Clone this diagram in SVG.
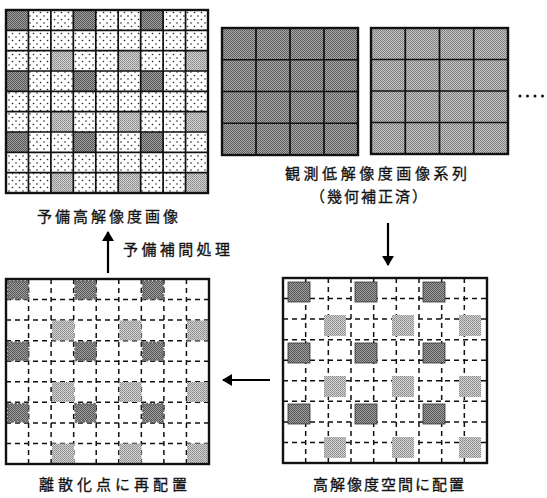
<svg xmlns="http://www.w3.org/2000/svg" width="547" height="498" viewBox="0 0 547 498">
<defs>
<pattern id="dots" patternUnits="userSpaceOnUse" width="7" height="7">
<rect width="7" height="7" fill="#fff"/>
<circle cx="2" cy="2" r="0.8" fill="#222"/>
<circle cx="5.5" cy="5.5" r="0.8" fill="#222"/>
</pattern>
<pattern id="hDark" patternUnits="userSpaceOnUse" width="2" height="2">
<rect width="2" height="2" fill="#a0a0a0"/>
<rect width="1" height="1" fill="#555"/>
<rect x="1" y="1" width="1" height="1" fill="#555"/>
</pattern>
<pattern id="hLight" patternUnits="userSpaceOnUse" width="2" height="2">
<rect width="2" height="2" fill="#d2d2d2"/>
<rect width="1" height="1" fill="#8a8a8a"/>
<rect x="1" y="1" width="1" height="1" fill="#9a9a9a"/>
</pattern>
<pattern id="hLowA" patternUnits="userSpaceOnUse" width="2" height="2">
<rect width="2" height="2" fill="#a8a8a8"/>
<rect width="1" height="1" fill="#5a5a5a"/>
<rect x="1" y="1" width="1" height="1" fill="#666"/>
</pattern>
<pattern id="hLowB" patternUnits="userSpaceOnUse" width="2" height="2">
<rect width="2" height="2" fill="#c4c4c4"/>
<rect width="1" height="1" fill="#7a7a7a"/>
<rect x="1" y="1" width="1" height="1" fill="#858585"/>
</pattern>
<marker id="ah" viewBox="0 0 10 12" refX="9" refY="6" markerWidth="10" markerHeight="12" markerUnits="userSpaceOnUse" orient="auto">
<path d="M0,0 L10,6 L0,12 Z" fill="#000"/>
</marker>
</defs>
<style>
.lbl{font-family:"Noto Sans CJK JP","Noto Sans CJK SC",sans-serif;font-size:15px;fill:#111;stroke:#111;stroke-width:0.3}
.grid{fill:none;stroke:#111;stroke-width:1.7}
.frame{fill:none;stroke:#111;stroke-width:2.4}
.dash{fill:none;stroke:#111;stroke-width:1.5;stroke-dasharray:5 4}
.dk{fill:url(#hDark)}
.lt{fill:url(#hLight)}
.sc{fill:url(#hDark);stroke:#6e6e6e;stroke-width:3;stroke-dasharray:0 3.8;stroke-linecap:round}
.arrow{fill:none;stroke:#000;stroke-width:2.2}
</style>
<rect width="547" height="498" fill="#fff"/>

<g id="prelim-hires">
<rect x="6" y="10" width="202" height="183" fill="url(#dots)"/>
<g class="dk">
<rect x="6" y="10" width="22.44" height="20.33"/><rect x="73.33" y="10" width="22.44" height="20.33"/><rect x="140.67" y="10" width="22.44" height="20.33"/>
<rect x="6" y="71" width="22.44" height="20.33"/><rect x="73.33" y="71" width="22.44" height="20.33"/><rect x="140.67" y="71" width="22.44" height="20.33"/>
<rect x="6" y="132" width="22.44" height="20.33"/><rect x="73.33" y="132" width="22.44" height="20.33"/><rect x="140.67" y="132" width="22.44" height="20.33"/>
</g>
<g class="lt">
<rect x="50.89" y="50.67" width="22.44" height="20.33"/><rect x="118.22" y="50.67" width="22.44" height="20.33"/><rect x="185.56" y="50.67" width="22.44" height="20.33"/>
<rect x="50.89" y="111.67" width="22.44" height="20.33"/><rect x="118.22" y="111.67" width="22.44" height="20.33"/><rect x="185.56" y="111.67" width="22.44" height="20.33"/>
<rect x="50.89" y="172.67" width="22.44" height="20.33"/><rect x="118.22" y="172.67" width="22.44" height="20.33"/><rect x="185.56" y="172.67" width="22.44" height="20.33"/>
</g>
<path class="grid" d="M28.44,10V193M50.89,10V193M73.33,10V193M95.78,10V193M118.22,10V193M140.67,10V193M163.11,10V193M185.56,10V193M6,30.33H208M6,50.67H208M6,71H208M6,91.33H208M6,111.67H208M6,132H208M6,152.33H208M6,172.67H208"/>
<rect class="frame" x="6" y="10" width="202" height="183"/>
<text class="lbl" x="37" y="222" textLength="141" lengthAdjust="spacing">予備高解像度画像</text>
</g>

<g id="lowres-series">
<rect x="222" y="28" width="136" height="127" fill="url(#hLowA)"/>
<path class="grid" d="M256,28V155M290,28V155M324,28V155M222,59.75H358M222,91.5H358M222,123.25H358"/>
<rect class="frame" x="222" y="28" width="136" height="127"/>
<rect x="371" y="28" width="137" height="126" fill="url(#hLowB)"/>
<path class="grid" d="M405.25,28V154M439.5,28V154M473.75,28V154M371,59.5H508M371,91H508M371,122.5H508"/>
<rect class="frame" x="371" y="28" width="137" height="126"/>
<g fill="#111"><circle cx="520" cy="96" r="1.5"/><circle cx="527.5" cy="96" r="1.5"/><circle cx="535" cy="96" r="1.5"/><circle cx="542.5" cy="96" r="1.5"/></g>
<text class="lbl" x="285" y="179" textLength="182" lengthAdjust="spacing">観測低解像度画像系列</text>
<text class="lbl" x="310" y="202" textLength="117" lengthAdjust="spacing">（幾何補正済）</text>
</g>

<g id="hires-placement">
<path class="dash" d="M305.67,278V463M328.33,278V463M351,278V463M373.67,278V463M396.33,278V463M419,278V463M441.67,278V463M464.33,278V463M283,298.56H487M283,319.11H487M283,339.67H487M283,360.22H487M283,380.78H487M283,401.33H487M283,421.89H487M283,442.44H487"/>
<g class="dk" stroke="#333" stroke-width="0.8">
<rect x="288" y="282" width="22" height="20"/><rect x="355" y="282" width="22" height="20"/><rect x="423" y="282" width="22" height="20"/>
<rect x="288" y="343" width="22" height="20"/><rect x="355" y="343" width="22" height="20"/><rect x="423" y="343" width="22" height="20"/>
<rect x="288" y="404" width="22" height="20"/><rect x="355" y="404" width="22" height="20"/><rect x="423" y="404" width="22" height="20"/>
</g>
<g class="lt">
<rect x="324" y="315" width="22" height="21"/><rect x="392" y="315" width="22" height="21"/><rect x="459" y="315" width="22" height="21"/>
<rect x="324" y="376" width="22" height="21"/><rect x="392" y="376" width="22" height="21"/><rect x="459" y="376" width="22" height="21"/>
<rect x="324" y="437" width="22" height="21"/><rect x="392" y="437" width="22" height="21"/><rect x="459" y="437" width="22" height="21"/>
</g>
<rect class="frame" x="283" y="278" width="204" height="185"/>
<text class="lbl" x="313" y="490" textLength="151" lengthAdjust="spacing">高解像度空間に配置</text>
</g>

<g id="discretized">
<path class="dash" d="M28.56,279V464M51.11,279V464M73.67,279V464M96.22,279V464M118.78,279V464M141.33,279V464M163.89,279V464M186.44,279V464M6,299.56H209M6,320.11H209M6,340.67H209M6,361.22H209M6,381.78H209M6,402.33H209M6,422.89H209M6,443.44H209"/>
<g class="sc">
<rect x="8" y="281" width="20" height="17.5"/><rect x="75.5" y="281" width="20" height="17.5"/><rect x="143" y="281" width="20" height="17.5"/>
<rect x="8" y="342.5" width="20" height="17.5"/><rect x="75.5" y="342.5" width="20" height="17.5"/><rect x="143" y="342.5" width="20" height="17.5"/>
<rect x="8" y="404" width="20" height="17.5"/><rect x="75.5" y="404" width="20" height="17.5"/><rect x="143" y="404" width="20" height="17.5"/>
</g>
<g class="lt">
<rect x="52" y="320.5" width="22" height="20"/><rect x="119.5" y="320.5" width="22" height="20"/><rect x="187" y="320.5" width="21" height="20"/>
<rect x="52" y="382" width="22" height="20"/><rect x="119.5" y="382" width="22" height="20"/><rect x="187" y="382" width="21" height="20"/>
<rect x="52" y="443.5" width="22" height="19.5"/><rect x="119.5" y="443.5" width="22" height="19.5"/><rect x="187" y="443.5" width="21" height="19.5"/>
</g>
<rect class="frame" x="6" y="279" width="203" height="185"/>
<text class="lbl" x="39" y="490" textLength="148" lengthAdjust="spacing">離散化点に再配置</text>
</g>

<g id="connectors">
<line class="arrow" x1="388" y1="223" x2="388" y2="265" marker-end="url(#ah)"/>
<line class="arrow" x1="270" y1="380" x2="223" y2="380" marker-end="url(#ah)"/>
<line class="arrow" x1="108" y1="273" x2="108" y2="232" marker-end="url(#ah)"/>
<text class="lbl" x="123" y="255" textLength="107" lengthAdjust="spacing">予備補間処理</text>
</g>
</svg>
